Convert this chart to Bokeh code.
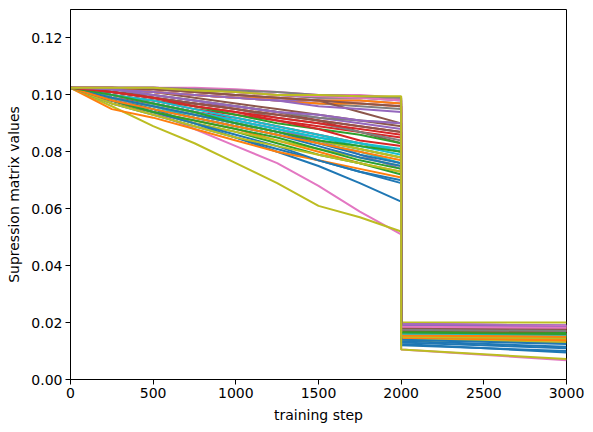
from bokeh.plotting import figure
from bokeh.models import Range1d, FixedTicker, PrintfTickFormatter
from bokeh.embed import file_html
from bokeh.resources import INLINE

steps_pre = [0, 250, 500, 750, 1000, 1250, 1500, 1750, 2000]
steps_post = [2000, 3000]

pre_values = [
    [0.1025, 0.099, 0.095, 0.090, 0.085, 0.080, 0.075, 0.069, 0.0625],
    [0.1025, 0.097, 0.094, 0.091, 0.088, 0.084, 0.080, 0.076, 0.073],
    [0.1025, 0.098, 0.094, 0.090, 0.087, 0.083, 0.079, 0.076, 0.072],
    [0.1025, 0.100, 0.098, 0.095, 0.093, 0.091, 0.089, 0.087, 0.085],
    [0.1025, 0.101, 0.099, 0.097, 0.096, 0.094, 0.092, 0.090, 0.088],
    [0.1025, 0.102, 0.101, 0.099, 0.097, 0.095, 0.093, 0.091, 0.089],
    [0.1025, 0.099, 0.094, 0.088, 0.082, 0.076, 0.068, 0.059, 0.051],
    [0.1025, 0.102, 0.101, 0.100, 0.099, 0.098, 0.097, 0.096, 0.095],
    [0.1025, 0.096, 0.089, 0.083, 0.076, 0.069, 0.061, 0.057, 0.052],
    [0.1025, 0.100, 0.097, 0.094, 0.091, 0.088, 0.085, 0.082, 0.079],
    [0.1025, 0.097, 0.093, 0.089, 0.085, 0.081, 0.077, 0.073, 0.070],
    [0.1025, 0.095, 0.092, 0.088, 0.084, 0.080, 0.077, 0.074, 0.071],
    [0.1025, 0.099, 0.096, 0.093, 0.090, 0.087, 0.084, 0.081, 0.078],
    [0.1025, 0.099, 0.097, 0.094, 0.092, 0.089, 0.086, 0.083, 0.080],
    [0.1025, 0.100, 0.097, 0.094, 0.091, 0.088, 0.084, 0.079, 0.074],
    [0.1025, 0.101, 0.100, 0.098, 0.096, 0.094, 0.091, 0.087, 0.083],
    [0.1025, 0.1025, 0.102, 0.101, 0.100, 0.099, 0.098, 0.097, 0.096],
    [0.1025, 0.101, 0.099, 0.097, 0.095, 0.092, 0.090, 0.087, 0.084],
    [0.1025, 0.098, 0.094, 0.090, 0.087, 0.084, 0.081, 0.078, 0.075],
    [0.1025, 0.099, 0.096, 0.092, 0.089, 0.086, 0.083, 0.080, 0.076],
    [0.1025, 0.098, 0.094, 0.090, 0.086, 0.082, 0.077, 0.073, 0.069],
    [0.1025, 0.1025, 0.101, 0.100, 0.099, 0.098, 0.097, 0.097, 0.096],
    [0.1025, 0.098, 0.094, 0.091, 0.088, 0.085, 0.081, 0.077, 0.074],
    [0.1025, 0.100, 0.098, 0.096, 0.094, 0.092, 0.090, 0.088, 0.086],
    [0.1025, 0.1025, 0.101, 0.100, 0.099, 0.098, 0.098, 0.098, 0.097],
    [0.1025, 0.1025, 0.102, 0.101, 0.100, 0.099, 0.098, 0.094, 0.090],
    [0.1025, 0.1025, 0.1025, 0.102, 0.101, 0.100, 0.099, 0.099, 0.0985],
    [0.1025, 0.102, 0.100, 0.098, 0.096, 0.094, 0.092, 0.091, 0.090],
    [0.1025, 0.097, 0.093, 0.089, 0.085, 0.082, 0.079, 0.076, 0.073],
    [0.1025, 0.100, 0.098, 0.095, 0.092, 0.089, 0.086, 0.083, 0.081],
    [0.1025, 0.098, 0.095, 0.092, 0.089, 0.086, 0.082, 0.078, 0.075],
    [0.1025, 0.1025, 0.101, 0.100, 0.099, 0.099, 0.098, 0.098, 0.097],
    [0.1025, 0.101, 0.099, 0.096, 0.093, 0.090, 0.088, 0.086, 0.083],
    [0.1025, 0.101, 0.099, 0.097, 0.095, 0.093, 0.091, 0.089, 0.087],
    [0.1025, 0.102, 0.100, 0.098, 0.096, 0.094, 0.093, 0.091, 0.090],
    [0.1025, 0.101, 0.099, 0.097, 0.095, 0.093, 0.091, 0.089, 0.087],
    [0.1025, 0.1025, 0.1025, 0.1025, 0.102, 0.101, 0.100, 0.100, 0.099],
    [0.1025, 0.1025, 0.1025, 0.102, 0.101, 0.100, 0.099, 0.099, 0.098],
    [0.1025, 0.099, 0.096, 0.093, 0.090, 0.087, 0.084, 0.081, 0.078],
    [0.1025, 0.100, 0.097, 0.094, 0.091, 0.088, 0.085, 0.083, 0.080],
    [0.1025, 0.099, 0.096, 0.093, 0.090, 0.087, 0.083, 0.079, 0.076],
    [0.1025, 0.098, 0.095, 0.092, 0.089, 0.086, 0.083, 0.080, 0.077],
    [0.1025, 0.100, 0.097, 0.094, 0.090, 0.087, 0.084, 0.082, 0.080],
    [0.1025, 0.101, 0.099, 0.096, 0.094, 0.091, 0.088, 0.084, 0.082],
    [0.1025, 0.102, 0.101, 0.100, 0.099, 0.098, 0.096, 0.095, 0.094],
    [0.1025, 0.1025, 0.102, 0.101, 0.100, 0.099, 0.098, 0.097, 0.096],
    [0.1025, 0.1025, 0.1025, 0.102, 0.101, 0.100, 0.0995, 0.099, 0.098],
    [0.1025, 0.1025, 0.1025, 0.102, 0.1015, 0.101, 0.100, 0.0995, 0.099],
    [0.1025, 0.1025, 0.1025, 0.1015, 0.101, 0.100, 0.100, 0.0995, 0.0995],
]

post_start = [0.0125, 0.0150, 0.0160, 0.0175, 0.0185, 0.0180, 0.0105, 0.0190, 0.0200, 0.0165,
              0.0135, 0.0145, 0.0155, 0.0170, 0.0175, 0.0185, 0.0190, 0.0180, 0.0160, 0.0150,
              0.0130, 0.0185, 0.0155, 0.0170, 0.0195, 0.0185, 0.0195, 0.0175, 0.0140, 0.0165,
              0.0120, 0.0150, 0.0170, 0.0165, 0.0195, 0.0180, 0.0190, 0.0160, 0.0150, 0.0160,
              0.0140, 0.0155, 0.0165, 0.0175, 0.0190, 0.0180, 0.0185, 0.0175, 0.0105]
post_end = [0.0095, 0.0140, 0.0155, 0.0170, 0.0180, 0.0175, 0.0068, 0.0185, 0.0200, 0.0160,
            0.0115, 0.0135, 0.0150, 0.0165, 0.0170, 0.0180, 0.0185, 0.0178, 0.0155, 0.0145,
            0.0110, 0.0180, 0.0150, 0.0168, 0.0190, 0.0182, 0.0190, 0.0170, 0.0130, 0.0160,
            0.0100, 0.0140, 0.0165, 0.0160, 0.0190, 0.0178, 0.0188, 0.0155, 0.0145, 0.0155,
            0.0125, 0.0150, 0.0160, 0.0170, 0.0185, 0.0178, 0.0182, 0.0170, 0.0072]

tab10 = ["#1f77b4", "#ff7f0e", "#2ca02c", "#d62728", "#9467bd",
         "#8c564b", "#e377c2", "#7f7f7f", "#bcbd22", "#17becf"]

y_ticks = [0.0, 0.02, 0.04, 0.06, 0.08, 0.10, 0.12]
x_ticks = [0, 500, 1000, 1500, 2000, 2500, 3000]

p = figure(width=586, height=425, output_backend="svg", toolbar_location=None,
           x_range=Range1d(0, 3000), y_range=Range1d(0, 0.13),
           min_border_left=70, min_border_right=20, min_border_top=9, min_border_bottom=45)

for i, vals in enumerate(pre_values):
    xs = steps_pre + steps_post
    ys = vals + [post_start[i], post_end[i]]
    p.line(xs, ys, line_color=tab10[i % 10], line_width=2)

p.grid.visible = False
p.outline_line_color = "black"
p.outline_line_width = 1
p.outline_line_alpha = 1.0

p.xaxis.ticker = FixedTicker(ticks=x_ticks)
p.yaxis.ticker = FixedTicker(ticks=y_ticks)
p.yaxis.formatter = PrintfTickFormatter(format="%.2f")
p.xaxis.axis_label = "training step"
p.yaxis.axis_label = "Supression matrix values"

for ax in [p.xaxis[0], p.yaxis[0]]:
    ax.axis_label_text_font = "DejaVu Sans"
    ax.axis_label_text_font_style = "normal"
    ax.axis_label_text_font_size = "14px"
    ax.axis_label_text_color = "black"
    ax.major_label_text_font = "DejaVu Sans"
    ax.major_label_text_font_size = "14px"
    ax.major_label_text_color = "black"
    ax.minor_tick_line_color = None
    ax.major_tick_out = 5
    ax.major_tick_in = 0
    ax.major_tick_line_color = "black"
    ax.axis_line_color = "black"
    ax.major_label_standoff = 3
    ax.axis_label_standoff = 6

open("out.html", "w").write(file_html(p, INLINE))
